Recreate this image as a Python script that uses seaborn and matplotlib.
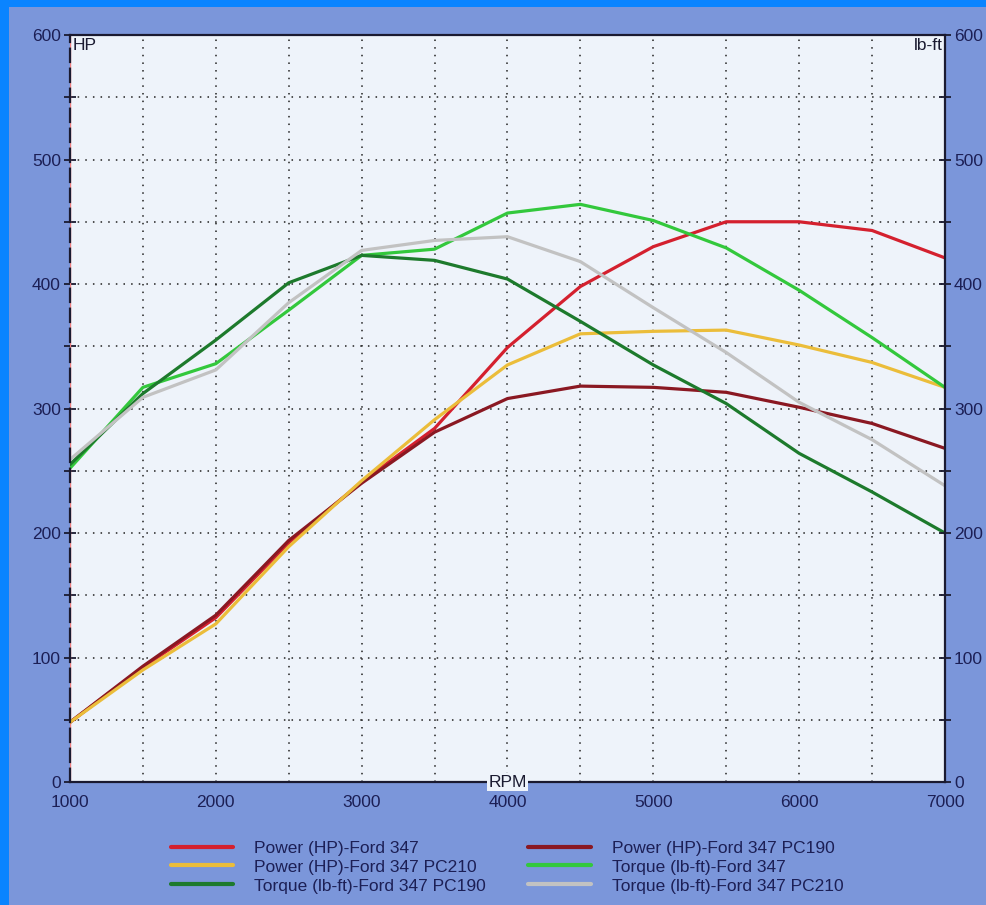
import numpy as np
import pandas as pd
import matplotlib
matplotlib.use('Agg')
import matplotlib.pyplot as plt
from matplotlib.lines import Line2D
from matplotlib.patches import Rectangle
import seaborn as sns

# ---------------------------------------------------------------
# data (every 500 rpm)
# ---------------------------------------------------------------
rpm = [1000, 1500, 2000, 2500, 3000, 3500, 4000, 4500, 5000, 5500, 6000, 6500, 7000]

power_347 = [48, 92, 132, 192, 241, 284, 349, 398, 430, 450, 450, 443, 421]
power_pc190 = [48, 93, 134, 194, 240, 281, 308, 318, 317, 313, 301, 288, 268]
power_pc210 = [48, 90, 127, 189, 242, 291, 335, 360, 362, 363, 351, 337, 317]
torque_347 = [252, 317, 336, 379, 423, 428, 457, 464, 451, 429, 395, 357, 317]
torque_pc190 = [255, 312, 355, 401, 423, 419, 404, 370, 335, 304, 264, 233, 200]
torque_pc210 = [259, 309, 331, 385, 427, 435, 438, 418, 381, 345, 305, 275, 238]

series_names = [
    'Power (HP)-Ford 347',
    'Power (HP)-Ford 347 PC190',
    'Power (HP)-Ford 347 PC210',
    'Torque (lb-ft)-Ford 347',
    'Torque (lb-ft)-Ford 347 PC190',
    'Torque (lb-ft)-Ford 347 PC210',
]
series_values = [power_347, power_pc190, power_pc210, torque_347, torque_pc190, torque_pc210]
series_colors = ['#d4202e', '#8a1822', '#ebbd3a', '#33c83c', '#1d7a2c', '#c2c2c2']

# legend is filled column by column
legend_order = [0, 2, 4, 1, 3, 5]

# long form table for seaborn
df = pd.concat([
    pd.DataFrame({'RPM': rpm, 'Value': vals, 'Series': name})
    for name, vals in zip(series_names, series_values)
], ignore_index=True)
palette = dict(zip(series_names, series_colors))

# ---------------------------------------------------------------
# plot
# ---------------------------------------------------------------
sns.set_style('white')
plt.rcParams['font.family'] = ['Liberation Sans', 'DejaVu Sans']

BG = '#7b96da'
TXT = '#1c1f55'
FS = 12.5
fig = plt.figure(figsize=(9.87, 9.05), dpi=100, facecolor=BG)

# bright frame at top / left
fig.patches.append(Rectangle((0, 0.992), 1, 0.008, transform=fig.transFigure,
                             facecolor='#0a84ff', edgecolor='none', zorder=0))
fig.patches.append(Rectangle((0, 0), 0.0095, 1, transform=fig.transFigure,
                             facecolor='#0a84ff', edgecolor='none', zorder=0))

ax = fig.add_axes([0.0709, 0.1359, 0.8865, 0.8254])
ax.set_facecolor('#eef3fa')

sns.lineplot(data=df, x='RPM', y='Value', hue='Series', palette=palette,
             hue_order=series_names, linewidth=2.3, ax=ax, legend=False)

ax.set_xlim(1000, 7000)
ax.set_ylim(0, 600)
ax.set_xticks(range(1000, 7001, 1000))
ax.set_xticks(range(1500, 7000, 1000), minor=True)
ax.set_yticks(range(0, 601, 100))
ax.set_yticks(range(50, 600, 100), minor=True)
ax.set_xlabel('')
ax.set_ylabel('')

ax.grid(True, which='both', linestyle=(0, (1, 4)), color='#202020', linewidth=1.1)
ax.tick_params(axis='both', which='both', direction='inout', length=9, width=1.3,
               colors='#1a1a30', labelcolor=TXT, labelsize=FS, pad=2)
ax.tick_params(axis='x', pad=5)

for side in ['top', 'right', 'bottom']:
    ax.spines[side].set_color('#1a1a30')
    ax.spines[side].set_linewidth(1.6)
ax.spines['left'].set_color('#1a1a30')
ax.spines['left'].set_linewidth(1.6)
ax.spines['left'].set_linestyle((0, (6, 3)))
ax.axvline(1000, color='#f08080', linewidth=1.0, zorder=1)

# right hand scale
ax2 = ax.twinx()
ax2.set_ylim(0, 600)
ax2.set_yticks(range(0, 601, 100))
ax2.set_yticks(range(50, 600, 100), minor=True)
ax2.tick_params(axis='y', which='both', direction='inout', length=9, width=1.3,
                colors='#1a1a30', labelcolor=TXT, labelsize=FS, pad=2)
for side in ['top', 'right', 'bottom', 'left']:
    ax2.spines[side].set_visible(False)
ax2.grid(False)

ax.text(0.003, 0.996, 'HP', transform=ax.transAxes, ha='left', va='top',
        fontsize=FS, color='#1a1a30')
ax.text(0.997, 0.996, 'lb-ft', transform=ax.transAxes, ha='right', va='top',
        fontsize=FS, color='#1a1a30')
ax.text(4000, 0, 'RPM', ha='center', va='center', fontsize=FS, color='#1a1a30',
        clip_on=False, zorder=5,
        bbox=dict(facecolor='#eef3fa', edgecolor='none', pad=1.2))

handles = [Line2D([], [], color=series_colors[i], linewidth=3) for i in legend_order]
labels = [series_names[i] for i in legend_order]
fig.legend(handles, labels, ncol=2, loc='upper left', bbox_to_anchor=(0.166, 0.079),
           frameon=False, fontsize=FS, labelcolor=TXT, handlelength=3.6,
           handletextpad=1.2, columnspacing=2.45, labelspacing=0.22,
           borderaxespad=0)

fig.savefig('out.png', dpi=100, facecolor=BG)
